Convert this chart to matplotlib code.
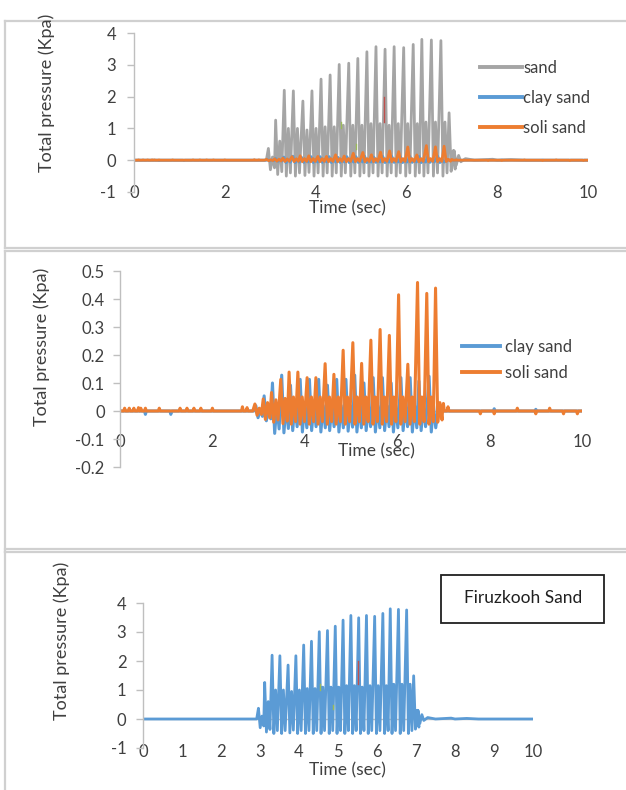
import numpy as np
import matplotlib.pyplot as plt
from matplotlib.lines import Line2D
from matplotlib.patches import Rectangle

plt.rcParams['font.family'] = ['Lato', 'DejaVu Sans']
plt.rcParams['axes.unicode_minus'] = False

# ---- data ----
# sand (Firuzkooh) : one main spike per loading cycle, a smaller second spike, troughs
sand_t = [2.96, 3.12, 3.31, 3.51, 3.72, 3.92, 4.12, 4.32, 4.52, 4.73, 4.93,
          5.13, 5.33, 5.53, 5.73, 5.94, 6.15, 6.34, 6.55, 6.76, 6.94]
sand_peak = [0.37, 1.26, 2.2, 2.18, 1.86, 2.18, 2.55, 2.68, 3.01, 3.05, 3.2,
             3.41, 3.57, 3.49, 3.57, 3.54, 3.64, 3.8, 3.78, 3.76, 1.49]
sand_second = [0.1, 0.6, 1.0, 1.0, 0.95, 1.0, 1.05, 1.05, 1.1, 1.1, 1.1,
               1.15, 1.15, 1.1, 1.15, 1.15, 1.15, 1.2, 1.2, 1.2, 0.3]
sand_trough = [-0.3, -0.45, -0.5, -0.5, -0.48, -0.5, -0.5, -0.5, -0.5, -0.5, -0.5,
               -0.5, -0.5, -0.5, -0.5, -0.5, -0.5, -0.5, -0.5, -0.5, -0.35]
sand_tail_t = [7.05, 7.1, 7.15, 7.2, 7.3, 7.5, 7.9, 8.0, 8.3, 8.6, 10.0]
sand_tail_v = [0.3, -0.15, 0.15, -0.05, 0.05, 0.0, 0.03, 0.0, 0.02, 0.0, 0.0]

# clay sand
clay_t = [2.94, 3.12, 3.30, 3.50, 3.69, 3.90, 4.10, 4.30, 4.49, 4.69, 4.89,
          5.08, 5.28, 5.48, 5.68, 5.87, 6.08, 6.28, 6.47, 6.69]
clay_peak = [0.019, 0.054, 0.10, 0.128, 0.092, 0.113, 0.113, 0.113, 0.092, 0.113, 0.113,
             0.128, 0.10, 0.119, 0.119, 0.10, 0.119, 0.119, 0.107, 0.124]
clay_second = [0.005, 0.01, 0.02, 0.02, 0.02, 0.02, 0.02, 0.02, 0.02, 0.02, 0.02,
               0.02, 0.02, 0.02, 0.02, 0.02, 0.02, 0.02, 0.02, 0.02]
clay_trough = [-0.024, -0.035, -0.08, -0.078, -0.07, -0.075, -0.07, -0.075, -0.07, -0.075, -0.072,
               -0.075, -0.07, -0.075, -0.07, -0.075, -0.07, -0.075, -0.07, -0.075]

# soli sand
soli_t = [2.92, 3.10, 3.28, 3.48, 3.66, 3.85, 4.05, 4.24, 4.44, 4.63, 4.83,
          5.04, 5.23, 5.43, 5.63, 5.83, 6.03, 6.23, 6.44, 6.64, 6.83]
soli_peak = [0.025, 0.043, 0.066, 0.113, 0.139, 0.139, 0.119, 0.119, 0.169, 0.131, 0.217,
             0.244, 0.170, 0.253, 0.291, 0.27, 0.415, 0.167, 0.459, 0.42, 0.439]
soli_second = [0.01, 0.03, 0.04, 0.045, 0.05, 0.05, 0.05, 0.05, 0.05, 0.05, 0.05,
               0.05, 0.05, 0.05, 0.05, 0.05, 0.05, 0.05, 0.05, 0.05, 0.03]
soli_trough = [-0.015, -0.03, -0.04, -0.045, -0.047, -0.047, -0.047, -0.047, -0.047, -0.047, -0.047,
               -0.047, -0.047, -0.047, -0.047, -0.047, -0.047, -0.047, -0.047, -0.047, -0.04]

# small baseline blips
soli_blip_t = [0.1, 0.2, 0.3, 0.4, 0.45, 0.55, 0.85, 1.3, 1.45, 1.6, 1.75, 2.0, 2.65, 2.75,
               7.0, 7.1, 7.8, 8.1, 8.6, 9.0, 9.3, 9.6, 9.9]
soli_blip_v = [0.01, 0.01, 0.01, 0.012, 0.01, 0.01, 0.01, 0.01, 0.01, 0.01, 0.01, 0.01, 0.015, 0.012,
               0.027, 0.015, -0.01, -0.01, 0.01, -0.01, 0.01, -0.01, -0.01]
clay_blip_t = [0.55, 1.1, 8.1, 9.0]
clay_blip_v = [-0.012, -0.012, 0.008, 0.006]

# stray marks of hidden series
red_t, red_v = [5.5, 5.5], [1.2, 2.0]
green1_t, green1_v = [4.55, 4.55], [1.0, 1.2]
green2_t, green2_v = [4.88, 4.88], [0.35, 0.5]

GRAY, BLUE, ORANGE = '#a5a5a5', '#5b9bd5', '#ed7d31'
TXT = '#404040'
AX = '#bfbfbf'


def wave(tp, peak, second, trough, half, tail_t=None, tail_v=None):
    t, v = [0.0, tp[0] - half], [0.0, 0.0]
    for k in range(len(tp)):
        t += [tp[k], tp[k] + half, tp[k] + 2 * half, tp[k] + 3 * half]
        v += [peak[k], trough[k], second[k], trough[k] * 0.8]
    if tail_t is None:
        t += [tp[-1] + 4 * half, 10.0]
        v += [0.0, 0.0]
    else:
        t += tail_t
        v += tail_v
    return np.array(t), np.array(v)


def blips(t, v, bt, bv, w=0.02):
    t, v = list(t), list(v)
    for a, b in zip(bt, bv):
        t += [a - w, a, a + w]
        v += [0.0, b, 0.0]
    order = np.argsort(t, kind='stable')
    return np.array(t)[order], np.array(v)[order]


sand_x, sand_y = wave(sand_t, sand_peak, sand_second, sand_trough, 0.045, sand_tail_t, sand_tail_v)
clay_x, clay_y = wave(clay_t, clay_peak, clay_second, clay_trough, 0.048)
clay_x, clay_y = blips(clay_x, clay_y, clay_blip_t, clay_blip_v)
soli_x, soli_y = wave(soli_t, soli_peak, soli_second, soli_trough, 0.047)
soli_x, soli_y = blips(soli_x, soli_y, soli_blip_t, soli_blip_v)

W, H = 626, 790
fig = plt.figure(figsize=(W / 100, H / 100), dpi=100)


def fx(x):
    return x / W


def fy(y):
    return 1 - y / H


def style(ax, ylim, yt, xt, xpad, ypad):
    ax.set_xlim(0, 10)
    ax.set_ylim(*ylim)
    for s in ['top', 'right', 'bottom']:
        ax.spines[s].set_visible(False)
    ax.spines['left'].set_color(AX)
    ax.spines['left'].set_linewidth(1)
    ax.axhline(0, color=AX, lw=1, zorder=0)
    ax.set_xticks(xt)
    ax.set_yticks(yt)
    ax.set_xticklabels(['%g' % v for v in xt])
    ax.set_yticklabels(['%g' % v for v in yt])
    ax.tick_params(axis='x', length=0, pad=xpad, labelsize=12, labelcolor=TXT)
    ax.tick_params(axis='y', length=5, width=1, color=AX, pad=ypad, labelsize=12, labelcolor=TXT)
    ax.set_facecolor('none')


# ---- panel frames ----
frame_kw = dict(color='#d0d0d0', lw=1.6, transform=fig.transFigure)
for (x0, x1, y0, y1) in [(5, 626, 21, 21), (5, 5, 21, 248), (5, 626, 248, 248),
                         (5, 626, 251, 251), (5, 5, 251, 552), (5, 626, 549, 549),
                         (5, 626, 552, 552), (5, 5, 552, 790)]:
    fig.add_artist(Line2D([fx(x0), fx(x1)], [fy(y0), fy(y1)], **frame_kw))

leg_kw = dict(loc='upper left', bbox_transform=fig.transFigure, frameon=False, fontsize=12,
              borderpad=0, borderaxespad=0, labelcolor=TXT)

# ---- panel 1 ----
ax1 = fig.add_axes([fx(134), fy(192), (588 - 134) / W, (192 - 33) / H])
ax1.plot(sand_x, sand_y, color=GRAY, lw=2, label='sand')
ax1.plot(clay_x, clay_y, color=BLUE, lw=2, label='clay sand')
ax1.plot(soli_x, soli_y, color=ORANGE, lw=2, label='soli sand')
ax1.plot(red_t, red_v, color='#c0504d', lw=1)
ax1.plot(green1_t, green1_v, color='#9bbb59', lw=1)
ax1.plot(green2_t, green2_v, color='#9bbb59', lw=1)
style(ax1, (-1, 4), [-1, 0, 1, 2, 3, 4], [0, 2, 4, 6, 8, 10], -5, 8)
leg1 = ax1.legend(bbox_to_anchor=(fx(480), fy(60)), handlelength=2.5, handletextpad=0.1,
                  labelspacing=0.83, **leg_kw)
for h in leg1.get_lines():
    h.set_linewidth(2.8)
fig.text(fx(347), fy(208), 'Time (sec)', ha='center', va='center', fontsize=12.5, color=TXT)
fig.text(fx(47), fy(93), 'Total pressure (Kpa)', rotation=90, ha='center', va='center',
         fontsize=13, color=TXT)

# ---- panel 2 ----
ax2 = fig.add_axes([fx(120), fy(467), (582 - 120) / W, (467 - 271) / H])
ax2.plot(clay_x, clay_y, color=BLUE, lw=2.2, label='clay sand')
ax2.plot(soli_x, soli_y, color=ORANGE, lw=2.2, label='soli sand')
style(ax2, (-0.2, 0.5), [-0.2, -0.1, 0, 0.1, 0.2, 0.3, 0.4, 0.5], [0, 2, 4, 6, 8, 10], -24, 6)
leg2 = ax2.legend(bbox_to_anchor=(fx(462), fy(339)), handlelength=2.3, handletextpad=0.3,
                  labelspacing=0.6, **leg_kw)
for h in leg2.get_lines():
    h.set_linewidth(2.8)
fig.text(fx(376), fy(451), 'Time (sec)', ha='center', va='center', fontsize=12.5, color=TXT)
fig.text(fx(42), fy(347), 'Total pressure (Kpa)', rotation=90, ha='center', va='center',
         fontsize=13, color=TXT)

# ---- panel 3 ----
ax3 = fig.add_axes([fx(143), fy(748), (533 - 143) / W, (748 - 603) / H])
ax3.plot(sand_x, sand_y, color=BLUE, lw=2)
ax3.plot(red_t, red_v, color='#c0504d', lw=1)
ax3.plot(green1_t, green1_v, color='#9bbb59', lw=1)
ax3.plot(green2_t, green2_v, color='#9bbb59', lw=1)
style(ax3, (-1, 4), [-1, 0, 1, 2, 3, 4], list(range(11)), -3, 7)
fig.text(fx(347), fy(770), 'Time (sec)', ha='center', va='center', fontsize=12.5, color=TXT)
fig.text(fx(62), fy(641), 'Total pressure (Kpa)', rotation=90, ha='center', va='center',
         fontsize=13, color=TXT)
fig.add_artist(Rectangle((fx(441), fy(623)), (604 - 441) / W, (623 - 575) / H,
                         transform=fig.transFigure, fill=False, edgecolor='#202020', lw=1.3))
fig.text(fx(523), fy(598), 'Firuzkooh Sand', ha='center', va='center', fontsize=12.5, color='#202020')

fig.savefig('out.png', dpi=100)
